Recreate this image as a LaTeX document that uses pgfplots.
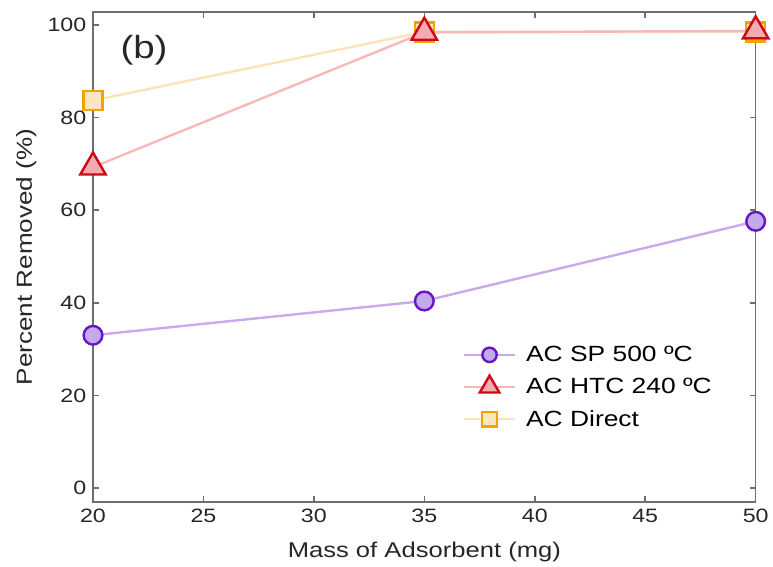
\documentclass[border=0pt]{standalone}
\usepackage{pgfplots}
\pgfplotsset{compat=1.18}
\usepackage{fontspec}
\setmainfont{Liberation Sans}[FakeStretch=1.2]
\definecolor{spline}{HTML}{C9AAEA}
\definecolor{spfill}{HTML}{C2AAEC}
\definecolor{spedge}{HTML}{6A14C8}
\definecolor{htcline}{HTML}{F8B8B8}
\definecolor{htcfill}{HTML}{F6ABB2}
\definecolor{htcedge}{HTML}{CC0A14}
\definecolor{dirline}{HTML}{FDE2B6}
\definecolor{dirfill}{HTML}{FDE5C2}
\definecolor{diredge}{HTML}{F2A300}
\definecolor{axgray}{HTML}{6E6E6E}
\pgfplotsset{
  spstyle/.style={spline, line width=1.8pt, mark=*, mark size=7pt,
    mark options={fill=spfill, draw=spedge, line width=1.8pt}},
  htcstyle/.style={htcline, line width=1.8pt, mark=triangle*, mark size=11pt,
    mark options={fill=htcfill, draw=htcedge, line width=1.8pt}},
  dirstyle/.style={dirline, line width=1.8pt, mark=square*, mark size=7.2pt,
    mark options={fill=dirfill, draw=diredge, line width=1.8pt}},
}
\begin{document}
\begin{tikzpicture}
\begin{axis}[
  scale only axis,
  width=497pt, height=367.5pt,
  xmin=20, xmax=50, ymin=-3, ymax=102.8,
  xtick={20,25,...,50}, ytick={0,20,...,100},
  tick align=inside,
  major tick length=4.5pt,
  axis line style={axgray, line width=1.2pt},
  every tick/.style={axgray, line width=1.2pt},
  tick label style={font=\fontsize{14.5}{17}\selectfont, text=black!85},
  xticklabel style={yshift=-2pt},
  yticklabel style={xshift=-1.5pt},
  /pgf/number format/assume math mode=true,
  xlabel={Mass of Adsorbent (mg)},
  ylabel={Percent Removed (\%)},
  every axis x label/.style={at={(rel axis cs:0.5,0)}, yshift=-42pt, anchor=base,
    font=\fontsize{16}{19}\selectfont, text=black!85},
  every axis y label/.style={at={(rel axis cs:0,0.5)}, xshift=-45.75pt, rotate=90, anchor=base,
    font=\fontsize{16.3}{19}\selectfont, text=black!85},
  clip=false,
  legend cell align=left,
  legend style={draw=none, fill=none, at={(rel axis cs:0.558,0.324)}, anchor=north west,
    font=\fontsize{16.5}{19}\selectfont, row sep=7pt, column sep=5.5pt, inner sep=0pt},
  legend image code/.code={
    \draw[mark repeat=2, mark phase=2, every mark/.append style={scale=0.77}]
      plot coordinates {(0pt,0pt) (19pt,0pt) (38pt,0pt)};
  },
]
\path ([shift={(-69.75pt,-46.5pt)}]rel axis cs:0,0) rectangle ([shift={(12.75pt,9pt)}]rel axis cs:1,1);
\addplot[spstyle] coordinates {(20,33.0) (35,40.4) (50,57.6)};
\addlegendentry{AC SP 500 ºC}
\addplot[dirstyle, forget plot] coordinates {(20,83.7) (35,98.5) (50,98.5)};
\addplot[htcstyle] coordinates {(20,69.3) (35,98.4) (50,98.7)};
\addlegendentry{AC HTC 240 ºC}
\addlegendimage{dirstyle}
\addlegendentry{AC Direct}
\node[font=\fontsize{24}{28}\selectfont, text=black!85] at (axis cs:22.31,94.6) {(b)};
\end{axis}
\end{tikzpicture}
\end{document}
